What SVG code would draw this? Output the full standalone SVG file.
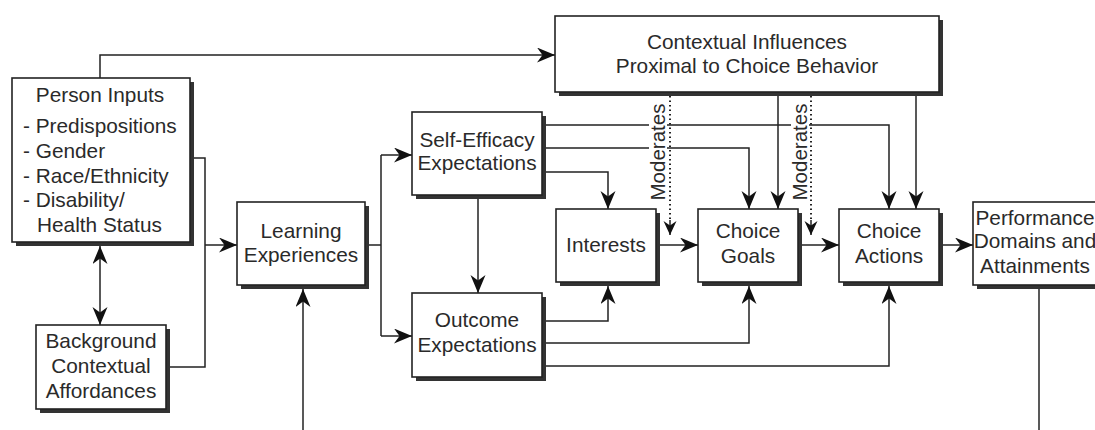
<svg xmlns="http://www.w3.org/2000/svg" width="1095" height="430" viewBox="0 0 1095 430">
<defs>
<style>
.box{fill:#fff;stroke:#222;stroke-width:1.6}
.sh{fill:#333}
.t{font-family:"Liberation Sans",Arial,Helvetica,sans-serif;font-size:20.8px;fill:#2a2a2a;text-anchor:middle}
.tl{text-anchor:start}
.ln{fill:none;stroke:#222;stroke-width:1.5}
.dot{fill:none;stroke:#222;stroke-width:2;stroke-dasharray:1.5 3}
.arr{marker-end:url(#ah)}
</style>
<marker id="ah" markerUnits="userSpaceOnUse" markerWidth="20" markerHeight="16" refX="18" refY="7.5" orient="auto-start-reverse">
<path d="M0,0 L18,7.5 L0,15 L5.5,7.5 Z" fill="#111"/>
</marker>
<marker id="ahs" markerUnits="userSpaceOnUse" markerWidth="16" markerHeight="14" refX="14" refY="6.5" orient="auto">
<path d="M0,0 L14,6.5 L0,13 L4.5,6.5 Z" fill="#111"/>
</marker>
</defs>
<rect width="1095" height="430" fill="#fff"/>
<g id="connectors">
<path class="ln arr" d="M100,78 V55 H555"/>
<path class="ln" d="M194,158 H205 V367 H170"/>
<path class="ln arr" d="M205,245 H237"/>
<path class="ln" d="M100,246 V325" marker-start="url(#ah)" marker-end="url(#ah)"/>
<path class="ln arr" d="M303,430 V289"/>
<path class="ln" d="M369,245 H381"/>
<path class="ln" d="M381,155 V336"/>
<path class="ln arr" d="M381,155 H412"/>
<path class="ln arr" d="M381,336 H412"/>
<path class="ln arr" d="M478,199 V293"/>
<path class="ln arr" d="M546,125 H889 V209"/>
<path class="ln arr" d="M546,148 H749 V209"/>
<path class="ln arr" d="M546,172 H608 V209"/>
<path class="ln arr" d="M546,321 H608 V286"/>
<path class="ln arr" d="M546,343 H749 V286"/>
<path class="ln arr" d="M546,366 H889 V286"/>
<path class="ln arr" d="M778,96 V209"/>
<path class="ln arr" d="M916,96 V209"/>
<path class="ln arr" d="M660,245 H698"/>
<path class="ln arr" d="M802,245 H839"/>
<path class="ln arr" d="M943,245 H973"/>
<path class="ln" d="M1039,289 V430"/>
<path class="dot" d="M670,96 V222"/>
<path class="dot" d="M811,96 V222"/>
<path class="ln" d="M670,220 V235" stroke-width="1" marker-end="url(#ahs)"/>
<path class="ln" d="M811,220 V235" stroke-width="1" marker-end="url(#ahs)"/>
<rect x="649" y="101" width="18" height="102" fill="#fff"/>
<rect x="791" y="101" width="18" height="102" fill="#fff"/>
<text class="t" transform="translate(665,152) rotate(-90)" textLength="97" lengthAdjust="spacingAndGlyphs">Moderates</text>
<text class="t" transform="translate(807,152) rotate(-90)" textLength="97" lengthAdjust="spacingAndGlyphs">Moderates</text>
</g>
<g id="person-inputs">
<rect class="sh" x="16" y="82" width="178" height="164"/>
<rect class="box" x="12" y="78" width="178" height="164"/>
<text class="t" x="100" y="102">Person Inputs</text>
<text class="t tl" x="23" y="133">- Predispositions</text>
<text class="t tl" x="23" y="158">- Gender</text>
<text class="t tl" x="23" y="183">- Race/Ethnicity</text>
<text class="t tl" x="23" y="207">- Disability/</text>
<text class="t tl" x="37" y="232">Health Status</text>
</g>
<g id="background">
<rect class="sh" x="40" y="329" width="130" height="84"/>
<rect class="box" x="36" y="325" width="130" height="84"/>
<text class="t" x="101" y="348">Background</text>
<text class="t" x="101" y="373">Contextual</text>
<text class="t" x="101" y="398">Affordances</text>
</g>
<g id="contextual">
<rect class="sh" x="559" y="20" width="384" height="76"/>
<rect class="box" x="555" y="16" width="384" height="76"/>
<text class="t" x="747" y="49">Contextual Influences</text>
<text class="t" x="747" y="73">Proximal to Choice Behavior</text>
</g>
<g id="learning">
<rect class="sh" x="241" y="206" width="128" height="83"/>
<rect class="box" x="237" y="202" width="128" height="83"/>
<text class="t" x="301" y="238">Learning</text>
<text class="t" x="301" y="262">Experiences</text>
</g>
<g id="self-efficacy">
<rect class="sh" x="416" y="116" width="130" height="83"/>
<rect class="box" x="412" y="112" width="130" height="83"/>
<text class="t" x="477" y="147">Self-Efficacy</text>
<text class="t" x="477" y="170">Expectations</text>
</g>
<g id="outcome">
<rect class="sh" x="416" y="297" width="130" height="84"/>
<rect class="box" x="412" y="293" width="130" height="84"/>
<text class="t" x="477" y="327">Outcome</text>
<text class="t" x="477" y="352">Expectations</text>
</g>
<g id="interests">
<rect class="sh" x="560" y="213" width="100" height="73"/>
<rect class="box" x="556" y="209" width="100" height="73"/>
<text class="t" x="606" y="252">Interests</text>
</g>
<g id="choice-goals">
<rect class="sh" x="702" y="213" width="100" height="73"/>
<rect class="box" x="698" y="209" width="100" height="73"/>
<text class="t" x="748" y="238">Choice</text>
<text class="t" x="748" y="263">Goals</text>
</g>
<g id="choice-actions">
<rect class="sh" x="843" y="213" width="100" height="73"/>
<rect class="box" x="839" y="209" width="100" height="73"/>
<text class="t" x="889" y="238">Choice</text>
<text class="t" x="889" y="263">Actions</text>
</g>
<g id="performance">
<rect class="sh" x="977" y="206" width="130" height="83"/>
<rect class="box" x="973" y="202" width="130" height="83"/>
<text class="t" x="1035" y="225">Performance</text>
<text class="t" x="1035" y="248">Domains and</text>
<text class="t" x="1035" y="273">Attainments</text>
</g>
</svg>
